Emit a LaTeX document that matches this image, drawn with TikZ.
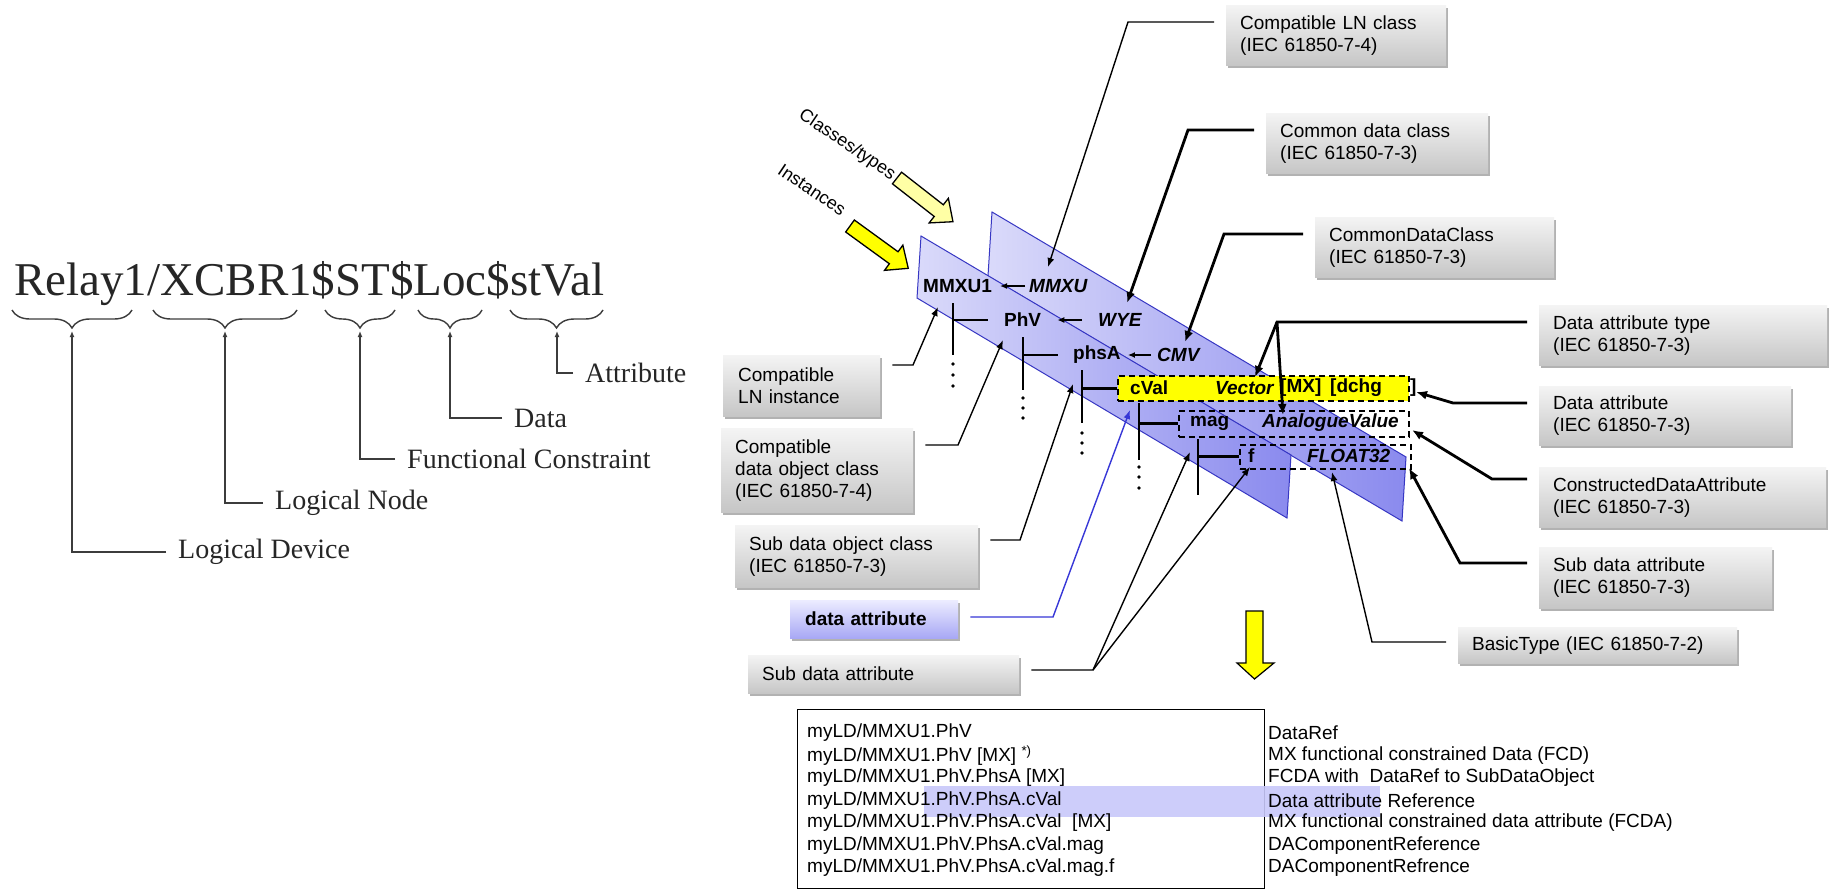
\documentclass[tikz,border=0pt]{standalone}
\usepackage{fontspec}
\setmainfont{Liberation Sans}
\newfontfamily\serifface{Liberation Serif}
\usetikzlibrary{arrows.meta,decorations.pathreplacing,shadows,calc}
\definecolor{planeL}{RGB}{218,218,250}
\definecolor{planeR}{RGB}{138,138,238}
\definecolor{planeEdge}{RGB}{55,55,195}
\definecolor{lyellow}{RGB}{255,255,165}
\definecolor{byellow}{RGB}{255,255,0}
\definecolor{boxTop}{RGB}{244,244,244}
\definecolor{boxBot}{RGB}{198,198,198}
\definecolor{blueTop}{RGB}{236,236,255}
\definecolor{blueBot}{RGB}{168,168,245}
\definecolor{hlband}{RGB}{200,200,250}
\definecolor{daline}{RGB}{55,55,215}
\definecolor{leftgray}{RGB}{60,60,60}
\tikzset{
 callout/.style={anchor=north west, inner xsep=14pt, inner ysep=0pt, align=left,
   top color=boxTop, bottom color=boxBot,
   drop shadow={shadow xshift=2pt, shadow yshift=-3pt, opacity=0.3, fill=black},
   font=\fontsize{19}{22}\selectfont},
 thinc/.style={line width=1.4pt, shorten <=12pt, -{Latex[length=9pt,width=7pt]}},
 thickc/.style={line width=2.8pt, shorten <=12pt, -{Latex[length=11pt,width=9pt]}},
 pl/.style={inner sep=0pt, anchor=west, font=\fontsize{19}{19}\selectfont\bfseries},
 pli/.style={pl, font=\fontsize{19}{19}\selectfont\bfseries\itshape},
 tree/.style={line width=2.8pt},
 tarr/.style={line width=2pt, -{Latex[length=7pt,width=6pt]}},
 dbox/.style={draw, dash pattern=on 6pt off 4pt, line width=1.5pt, anchor=north west, inner sep=0pt},
 lab/.style={anchor=west, inner xsep=12pt, inner ysep=0pt, font=\serifface\fontsize{28}{28}\selectfont, text=black!85},
 larr/.style={draw=leftgray, line width=1.3pt, -{Latex[length=6pt,width=5pt]}},
 brc/.style={draw=leftgray, line width=1.4pt, decorate, decoration={brace,mirror,amplitude=18pt}},
 tt/.style={anchor=west, inner sep=0pt, font=\fontsize{19}{19}\selectfont},
 rotlab/.style={rotate=-34, inner sep=0pt, font=\fontsize{18}{18}\selectfont},
}
\begin{document}
\begin{tikzpicture}[x=1pt,y=-1pt]
\useasboundingbox[fill=white] (0,0) rectangle (1832,891);

% ---------------- left part ----------------
\node[anchor=base west, inner sep=0pt, font=\serifface\fontsize{47}{47}\selectfont, text=black!85] (title) at (14,295) {Relay1/XCBR1\$ST\$Loc\$stVal};
\draw[brc] (12,310) -- (132,310);
\draw[brc] (153,310) -- (297,310);
\draw[brc] (325,310) -- (395,310);
\draw[brc] (418,310) -- (482,310);
\draw[brc] (510,310) -- (603,310);
\coordinate (tip1) at (72,331);
\coordinate (tip2) at (225,331);
\coordinate (tip3) at (360,331);
\coordinate (tip4) at (450,331);
\coordinate (tip5) at (557,331);
\node[lab] (lLD) at (166,552) {Logical Device};
\node[lab] (lLN) at (263,503) {Logical Node};
\node[lab] (lFC) at (395,459) {Functional Constraint};
\node[lab] (lData) at (502,418) {Data};
\node[lab] (lAttr) at (573,373) {Attribute};
\draw[larr] (lLD.west) -| (tip1);
\draw[larr] (lLN.west) -| (tip2);
\draw[larr] (lFC.west) -| (tip3);
\draw[larr] (lData.west) -| (tip4);
\draw[larr] (lAttr.west) -| (tip5);

% ---------------- planes ----------------
\path[left color=planeL, right color=planeR, draw=planeEdge, line width=1pt]
  (992,212) -- (1406,457) -- (1402,521) -- (988,276) -- cycle;
\path[left color=planeL, right color=planeR, draw=planeEdge, line width=1pt]
  (921,236) -- (1291,455) -- (1287,518) -- (917,298) -- cycle;

% yellow arrows and their labels
\draw[fill=lyellow, line width=1.3pt, shift={(897,178)}, rotate=-38]
  (0,-7.4) -- (53,-7.4) -- (53,-15.6) -- (71,0) -- (53,15.6) -- (53,7.4) -- (0,7.4) -- cycle;
\draw[fill=byellow, line width=1.3pt, shift={(850,226)}, rotate=-36]
  (0,-7.4) -- (54,-7.4) -- (54,-15.6) -- (72,0) -- (54,15.6) -- (54,7.4) -- (0,7.4) -- cycle;
\node[rotlab] (lblClasses) at (847,145) {Classes/types};
\node[rotlab] (lblInst) at (812,190) {Instances};

% dashed boxes
\node[dbox, fill=byellow, minimum width=291pt, minimum height=25pt] (cValBox) at (1117,375) {};
\node[dbox, minimum width=230pt, minimum height=26pt] (magBox) at (1178,410) {};
\node[dbox, minimum width=171pt, minimum height=24pt] (fBox) at (1239,444) {};

% plane texts
\node[pl] (MMXU1) at (923,286) {MMXU1};
\node[pli] (MMXU) at (1029,286) {MMXU};
\node[pl] (PhV) at (1004,320) {PhV};
\node[pli] (WYE) at (1098,320) {WYE};
\node[pl] (phsA) at (1073,355) {phsA};
\node[pli] (CMV) at (1157,355) {CMV};
\node[pl] (cVal) at (1130,388) {cVal};
\node[pli] (Vector) at (1215,388) {Vector};
\node[pl] (MX) at (1280,388) {[MX]};
\node[pl] (dchg) at (1330,388) {[dchg};
\node[pl] (brk) at (1410,388) {]};
\node[pl] (mag) at (1190,423) {mag};
\node[pli] (Analog) at (1262,423) {AnalogueValue};
\node[pl] (fnode) at (1248,456) {f};
\node[pli] (Float) at (1307,456) {FLOAT32};

\draw[tarr, shorten <=4pt, shorten >=8pt] (MMXU.west) -- (MMXU1.east);
\draw[tarr, shorten <=16pt, shorten >=16pt] (WYE.west) -- (PhV.east);
\draw[tarr, shorten <=6pt, shorten >=7pt] (CMV.west) -- (phsA.east);

% tree lines
\coordinate (v1) at (953,303); \coordinate (v1b) at (953,355);
\coordinate (v2) at (1023,337); \coordinate (v2b) at (1023,390);
\coordinate (v3) at (1082,370); \coordinate (v3b) at (1082,423);
\coordinate (v4) at (1139,403); \coordinate (v4b) at (1139,460);
\coordinate (v5) at (1198,439); \coordinate (v5b) at (1198,495);
\draw[tree] (v1) -- (v1b);
\draw[tree] (v1 |- PhV.west) -- ([xshift=-16pt]PhV.west);
\draw[tree] (v2) -- (v2b);
\draw[tree] (v2 |- phsA.west) -- ([xshift=-15pt]phsA.west);
\draw[tree] (v3) -- (v3b);
\draw[tree] (v3 |- cValBox.west) -- (cValBox.west);
\draw[tree] (v4) -- (v4b);
\draw[tree] (v4 |- magBox.west) -- (magBox.west);
\draw[tree] (v5) -- (v5b);
\draw[tree] (v5 |- fBox.west) -- (fBox.west);
\foreach \x/\y in {953/364,953/375,953/386,1023/398,1023/408,1023/418,1082/433,1082/443,1082/453,1139/467,1139/477,1139/488}
  \fill (\x,\y) circle (1.9pt);

% down arrow
\draw[fill=byellow, line width=1.2pt] (1246,611) -- (1263,611) -- (1263,663) -- (1274,663) -- (1254.5,679) -- (1237,663) -- (1246,663) -- cycle;

% ---------------- callouts ----------------
\node[callout, text width=192pt, minimum height=60pt] (cLNclass) at (1226,5) {Compatible LN class\\(IEC 61850-7-4)};
\node[callout, text width=194pt, minimum height=60pt] (cCDC) at (1266,113) {Common data class\\(IEC 61850-7-3)};
\node[callout, text width=211pt, minimum height=60pt] (cCDC2) at (1315,217) {CommonDataClass\\(IEC 61850-7-3)};
\node[callout, text width=260pt, minimum height=60pt] (cDAT) at (1539,305) {Data attribute type\\(IEC 61850-7-3)};
\node[callout, text width=224pt, minimum height=59pt] (cDA) at (1539,386) {Data attribute\\(IEC 61850-7-3)};
\node[callout, text width=259pt, minimum height=60pt] (cCDA) at (1539,467) {ConstructedDataAttribute\\(IEC 61850-7-3)};
\node[callout, text width=205pt, minimum height=61pt] (cSubDA) at (1539,547) {Sub data attribute\\(IEC 61850-7-3)};
\node[callout, text width=251pt, minimum height=36pt] (cBasic) at (1458,627) {BasicType (IEC 61850-7-2)};
\node[callout, text width=127pt, inner xsep=15pt, minimum height=61pt] (cLNinst) at (723,355) {Compatible\\LN instance};
\node[callout, text width=164pt, minimum height=84pt] (cDOclass) at (721,428) {Compatible\\data object class\\(IEC 61850-7-4)};
\node[callout, text width=215pt, minimum height=62pt] (cSubDO) at (735,525) {Sub data object class\\(IEC 61850-7-3)};
\node[callout, text width=138pt, inner xsep=15pt, minimum height=38pt, top color=blueTop, bottom color=blueBot, font=\fontsize{19}{22}\selectfont\bfseries] (cDAblue) at (790,600) {data attribute};
\node[callout, text width=243pt, minimum height=38pt] (cSubDAleft) at (748,655) {Sub data attribute};

% connector targets and bends
\coordinate (tMMXU) at (1048,267);
\coordinate (tWYE) at (1127,303);
\coordinate (tCMV) at (1185,342);
\coordinate (tVector) at (1255,377);
\coordinate (tAnalog) at (1283,415);
\coordinate (tDA) at (1416,392);
\coordinate (tCDA) at (1412,430);
\coordinate (tSubDA) at (1409,468);
\coordinate (tBasic) at (1332,472);
\coordinate (tLNinst) at (938,307);
\coordinate (tDO) at (1003,340);
\coordinate (tSubDO) at (1073,384);
\coordinate (tDAb) at (1130,410);
\coordinate (tSA1) at (1190,452);
\coordinate (tSA2) at (1250,467);
\coordinate (bLN) at (1128,22);
\coordinate (bCDC) at (1188,130);
\coordinate (bCDC2) at (1224,234);
\coordinate (bDAT) at (1277,322);
\coordinate (bDA) at (1453,403);
\coordinate (bCDA) at (1492,479);
\coordinate (bSubDA) at (1460,563);
\coordinate (bBasic) at (1372,642);
\coordinate (bLNi) at (913,365);
\coordinate (bDO) at (958,445);
\coordinate (bSubDO) at (1020,540);
\coordinate (bDAb) at (1053,617);
\coordinate (bSA) at (1093,670);

\draw[thinc] (cLNclass.west |- bLN) -- (bLN) -- (tMMXU);
\draw[thickc] (cCDC.west |- bCDC) -- (bCDC) -- (tWYE);
\draw[thickc] (cCDC2.west |- bCDC2) -- (bCDC2) -- (tCMV);
\draw[thickc] (cDAT.west |- bDAT) -- (bDAT) -- (tVector);
\draw[thickc, shorten <=0pt] (bDAT) -- (tAnalog);
\draw[thickc] (cDA.west |- bDA) -- (bDA) -- (tDA);
\draw[thickc] (cCDA.west |- bCDA) -- (bCDA) -- (tCDA);
\draw[thickc] (cSubDA.west |- bSubDA) -- (bSubDA) -- (tSubDA);
\draw[thinc] (cBasic.west |- bBasic) -- (bBasic) -- (tBasic);
\draw[thinc] (cLNinst.east |- bLNi) -- (bLNi) -- (tLNinst);
\draw[thinc] (cDOclass.east |- bDO) -- (bDO) -- (tDO);
\draw[thinc] (cSubDO.east |- bSubDO) -- (bSubDO) -- (tSubDO);
\draw[thinc, daline] (cDAblue.east |- bDAb) -- (bDAb) -- (tDAb);
\draw[thinc] (cSubDAleft.east |- bSA) -- (bSA) -- (tSA1);
\draw[thinc, shorten <=0pt] (bSA) -- (tSA2);

% ---------------- table ----------------
\node[draw, line width=1.3pt, anchor=north west, minimum width=467pt, minimum height=179pt, inner sep=0pt] (tbl) at (797,709) {};
\fill[hlband, opacity=0.9] (924,786) rectangle (1380,817);
\node[tt] (r1) at (807,733) {myLD/MMXU1.PhV};
\node[tt] (r2) at (807,755.5) {myLD/MMXU1.PhV [MX] \textsuperscript{*)}};
\node[tt] (r3) at (807,778) {myLD/MMXU1.PhV.PhsA [MX]};
\node[tt] (r4) at (807,800.5) {myLD/MMXU1.PhV.PhsA.cVal};
\node[tt] (r5) at (807,823) {myLD/MMXU1.PhV.PhsA.cVal\ \ [MX]};
\node[tt] (r6) at (807,845.5) {myLD/MMXU1.PhV.PhsA.cVal.mag};
\node[tt] (r7) at (807,868) {myLD/MMXU1.PhV.PhsA.cVal.mag.f};
\node[tt] (d1) at (1268,733) {DataRef};
\node[tt] (d2) at (1268,755.5) {MX functional constrained Data (FCD)};
\node[tt] (d3) at (1268,778) {FCDA with\ \ DataRef to SubDataObject};
\node[tt] (d4) at (1268,800.5) {Data attribute Reference};
\node[tt] (d5) at (1268,823) {MX functional constrained data attribute (FCDA)};
\node[tt] (d6) at (1268,845.5) {DAComponentReference};
\node[tt] (d7) at (1268,868) {DAComponentRefrence};
\end{tikzpicture}
\end{document}
